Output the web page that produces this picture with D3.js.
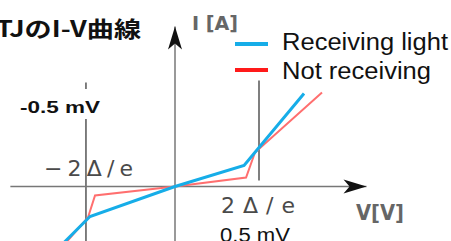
<!DOCTYPE html>
<html>
<head>
<meta charset="utf-8">
<script src="https://cdn.jsdelivr.net/npm/d3@7"></script>
<style>
  body { margin: 0; background: #fff; }
  svg { display: block; }
</style>
</head>
<body>
<div class="chart"></div>
<script>
// I-V curve (V in mV, I in arbitrary units)
const vBlue = [-0.708, -0.506, 0, 0.411, 0.768];
const iBlue = [-0.64, -0.30, 0, 0.21, 0.93];
const vRed = [-0.69, -0.518, -0.476, 0, 0.423, 0.476, 0.875];
const iRed = [-0.64, -0.31, -0.09, 0, 0.09, 0.34, 0.94];

const seriesNames = ["Receiving light", "Not receiving"];
const guideV = [-0.53, 0.5];
const guideLabels = ["−2Δ/e", "2Δ/e"];
const guideMv = ["-0.5 mV", "0.5 mV"];

const width = 451, height = 241;

const svg = d3.select(".chart")
  .append("svg")
    .attr("width", width)
    .attr("height", height);

const x = d3.scaleLinear().domain([0, 0.5]).range([175, 259]);
const y = d3.scaleLinear().domain([0, 1]).range([186.5, 86.5]);

// arrow head
svg.append("defs")
  .append("marker")
    .attr("id", "arrow")
    .attr("viewBox", "-24 -8 25 16")
    .attr("refX", 0)
    .attr("refY", 0)
    .attr("markerUnits", "userSpaceOnUse")
    .attr("markerWidth", 25)
    .attr("markerHeight", 16)
    .attr("orient", "auto")
  .append("path")
    .attr("d", "M0,0 L-23,-7 L-17,0 L-23,7 Z")
    .attr("fill", "#111");

// guide lines
svg.append("line")
  .attr("x1", x(guideV[0])).attr("x2", x(guideV[0]))
  .attr("y1", y(1.04)).attr("y2", y(-0.6))
  .attr("stroke", "#555").attr("stroke-width", 1.5);
svg.append("line")
  .attr("x1", x(guideV[1])).attr("x2", x(guideV[1]))
  .attr("y1", y(1.06)).attr("y2", y(0.06))
  .attr("stroke", "#555").attr("stroke-width", 1.5);

// axes
svg.append("line")
  .attr("x1", x(-0.98)).attr("x2", x(1.14))
  .attr("y1", y(0)).attr("y2", y(0))
  .attr("stroke", "#777").attr("stroke-width", 1.5)
  .attr("marker-end", "url(#arrow)");
svg.append("line")
  .attr("x1", x(0)).attr("x2", x(0))
  .attr("y1", y(-0.6)).attr("y2", y(1.6))
  .attr("stroke", "#777").attr("stroke-width", 1.5)
  .attr("marker-end", "url(#arrow)");

// curves
const line = d3.line().x(d => x(d[0])).y(d => y(d[1]));
svg.append("path")
  .datum(d3.zip(vRed, iRed))
  .attr("d", line)
  .attr("fill", "none")
  .attr("stroke", "#ff6f6f")
  .attr("stroke-width", 2);
svg.append("path")
  .datum(d3.zip(vBlue, iBlue))
  .attr("d", line)
  .attr("fill", "none")
  .attr("stroke", "#16ade8")
  .attr("stroke-width", 3);

// legend
const legend = [
  { name: seriesNames[0], color: "#16ade8", y: 44, ty: 50, len: 166 },
  { name: seriesNames[1], color: "#ff1a1a", y: 70, ty: 79, len: 149 }
];
legend.forEach(d => {
  svg.append("line")
    .attr("x1", 235).attr("x2", 268)
    .attr("y1", d.y).attr("y2", d.y)
    .attr("stroke", d.color).attr("stroke-width", 4);
  svg.append("text")
    .attr("x", 282).attr("y", d.ty)
    .attr("textLength", d.len)
    .attr("lengthAdjust", "spacingAndGlyphs")
    .style("font-family", "'Liberation Sans', Arial, sans-serif")
    .style("font-size", "23px")
    .attr("fill", "#111")
    .text(d.name);
});

// title
svg.append("text")
  .attr("x", 141).attr("y", 37)
  .attr("text-anchor", "end")
  .attr("textLength", 168)
  .attr("lengthAdjust", "spacingAndGlyphs")
  .style("font-family", "'Noto Sans CJK JP', sans-serif")
  .style("font-weight", "bold")
  .style("font-size", "22px")
  .attr("fill", "#111")
  .text("MTJのI-V曲線");

// axis titles
svg.append("text")
  .attr("x", 192).attr("y", 30)
  .attr("textLength", 46)
  .attr("lengthAdjust", "spacingAndGlyphs")
  .style("font-family", "'DejaVu Sans', sans-serif")
  .style("font-weight", "bold")
  .style("font-size", "20px")
  .attr("fill", "#666")
  .text("I [A]");
svg.append("text")
  .attr("x", 356).attr("y", 220)
  .attr("textLength", 48)
  .attr("lengthAdjust", "spacingAndGlyphs")
  .style("font-family", "'DejaVu Sans', sans-serif")
  .style("font-weight", "bold")
  .style("font-size", "21px")
  .attr("fill", "#666")
  .text("V[V]");

// guide labels
svg.append("text")
  .attr("x", 44).attr("y", 176)
  .attr("textLength", 89)
  .attr("lengthAdjust", "spacing")
  .style("font-family", "'DejaVu Sans', sans-serif")
  .style("font-size", "22px")
  .attr("fill", "#4a4a4a")
  .text(guideLabels[0]);
svg.append("text")
  .attr("x", 221).attr("y", 213)
  .attr("textLength", 74)
  .attr("lengthAdjust", "spacing")
  .style("font-family", "'DejaVu Sans', sans-serif")
  .style("font-size", "22px")
  .attr("fill", "#4a4a4a")
  .text(guideLabels[1]);

// mV labels
svg.append("rect")
  .attr("x", 16).attr("y", 89)
  .attr("width", 88).attr("height", 30)
  .attr("fill", "#fff");
svg.append("text")
  .attr("x", 20).attr("y", 113)
  .attr("textLength", 80)
  .attr("lengthAdjust", "spacingAndGlyphs")
  .style("font-family", "'Liberation Sans', Arial, sans-serif")
  .style("font-weight", "bold")
  .style("font-size", "16px")
  .attr("fill", "#111")
  .text(guideMv[0]);
svg.append("text")
  .attr("x", 220).attr("y", 242)
  .attr("textLength", 70)
  .attr("lengthAdjust", "spacingAndGlyphs")
  .style("font-family", "'Liberation Sans', Arial, sans-serif")
  .style("font-size", "20px")
  .attr("fill", "#111")
  .text(guideMv[1]);
</script>
</body>
</html>
